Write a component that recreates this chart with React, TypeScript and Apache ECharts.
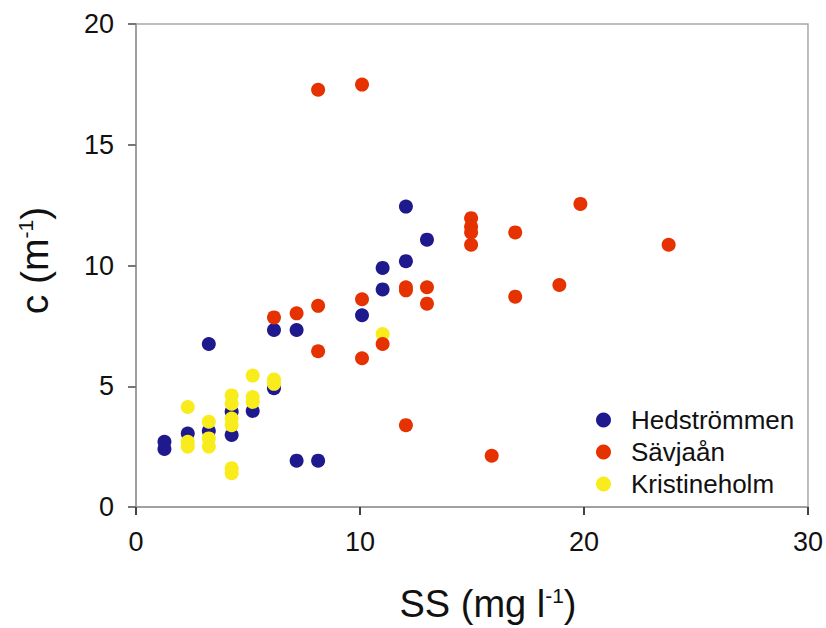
import React, { useEffect, useRef } from "react";
import * as echarts from "echarts";

const seriesNames = ["Hedströmmen", "Sävjaån", "Kristineholm"];
const seriesColors = ["#1e1a8e", "#e53200", "#f9ec1c"];

const hedX = [1.27, 1.27, 2.31, 3.25, 3.25, 4.27, 4.27, 5.21, 6.16, 6.16, 7.17, 7.17, 8.13, 10.09, 11.01, 11.01, 12.05, 12.05, 12.99];
const hedY = [2.70, 2.40, 3.04, 3.15, 6.75, 3.94, 2.98, 3.98, 4.92, 7.33, 7.33, 1.92, 1.92, 7.94, 9.90, 9.01, 10.18, 12.44, 11.07];

const savX = [6.16, 7.17, 8.13, 8.13, 8.13, 10.09, 10.09, 10.09, 11.01, 12.05, 12.05, 12.05, 12.99, 12.99, 14.96, 14.96, 14.96, 14.96, 16.93, 16.93, 15.88, 18.9, 19.84, 23.78];
const savY = [7.85, 8.02, 8.33, 6.45, 17.28, 17.49, 8.60, 6.16, 6.75, 9.10, 8.97, 3.39, 9.10, 8.42, 11.96, 11.60, 11.37, 10.86, 11.37, 8.71, 2.12, 9.19, 12.55, 10.86];

const kriX = [2.31, 2.31, 2.31, 3.25, 3.25, 3.25, 4.27, 4.27, 4.27, 4.27, 4.27, 4.27, 5.21, 5.21, 5.21, 6.16, 6.16, 11.01];
const kriY = [4.14, 2.70, 2.50, 3.53, 2.84, 2.50, 4.62, 4.28, 3.66, 3.39, 1.60, 1.40, 5.44, 4.55, 4.35, 5.28, 5.10, 7.16];

const xTicks = { min: 0, max: 30, interval: 10 };
const yTicks = { min: 0, max: 20, interval: 5 };

const zip = (xs: number[], ys: number[]) => xs.map((x, i) => [x, ys[i]]);

export default function App() {
  const ref = useRef<HTMLDivElement>(null);
  useEffect(() => {
    if (!ref.current) return;
    const chart = echarts.init(ref.current, undefined, { renderer: "svg" });
    const font = "'Liberation Sans', Arial, sans-serif";
    const datasets = [zip(hedX, hedY), zip(savX, savY), zip(kriX, kriY)];
    const zs = [2, 4, 3];
    chart.setOption({
      animation: false,
      backgroundColor: "#ffffff",
      textStyle: { fontFamily: font },
      grid: {
        left: 136,
        right: 18,
        top: 24,
        bottom: 119,
        show: true,
        borderColor: "#a8a8a8",
        borderWidth: 1.5,
        backgroundColor: "transparent",
      },
      legend: {
        orient: "vertical",
        left: 596,
        top: 407,
        padding: 0,
        icon: "circle",
        itemWidth: 15,
        itemHeight: 15,
        itemGap: 6,
        data: seriesNames,
        textStyle: {
          fontFamily: font,
          fontSize: 26,
          color: "#111",
          lineHeight: 20,
          padding: [0, 0, 0, 15],
        },
      },
      xAxis: {
        type: "value",
        min: xTicks.min,
        max: xTicks.max,
        interval: xTicks.interval,
        name: "SS (mg l{sup|-1})",
        nameLocation: "middle",
        nameGap: 78,
        nameTextStyle: {
          fontFamily: font,
          fontSize: 38,
          color: "#111",
          padding: [0, 0, 0, 32],
          rich: { sup: { fontSize: 21, verticalAlign: "top", padding: [0, 0, 15, 0], fontFamily: font, color: "#111" } },
        },
        splitLine: { show: false },
        axisLine: { show: true, lineStyle: { color: "#a0a0a0", width: 2 } },
        axisTick: { show: true, inside: false, length: 8, lineStyle: { color: "#444", width: 2 } },
        axisLabel: { fontFamily: font, fontSize: 27, color: "#111", margin: 21 },
      },
      yAxis: {
        type: "value",
        min: yTicks.min,
        max: yTicks.max,
        interval: yTicks.interval,
        name: "c (m{sup|-1})",
        nameLocation: "middle",
        nameGap: 82,
        nameTextStyle: {
          fontFamily: font,
          fontSize: 39,
          color: "#111",
          padding: [0, 0, 0, 10],
          rich: { sup: { fontSize: 21, verticalAlign: "top", padding: [0, 0, 15, 0], fontFamily: font, color: "#111" } },
        },
        splitLine: { show: false },
        axisLine: { show: true, lineStyle: { color: "#a0a0a0", width: 2 } },
        axisTick: { show: true, inside: false, length: 8, lineStyle: { color: "#777", width: 2 } },
        axisLabel: { fontFamily: font, fontSize: 27, color: "#111", margin: 22 },
      },
      series: seriesNames.map((name, i) => ({
        name,
        type: "scatter",
        data: datasets[i],
        symbol: "circle",
        symbolSize: 14,
        z: zs[i],
        itemStyle: { color: seriesColors[i], opacity: 1 },
      })),
    });
    return () => chart.dispose();
  }, []);
  return (
    <div
      ref={ref}
      style={{ position: "absolute", left: 0, top: 0, width: 826, height: 628 }}
    />
  );
}
